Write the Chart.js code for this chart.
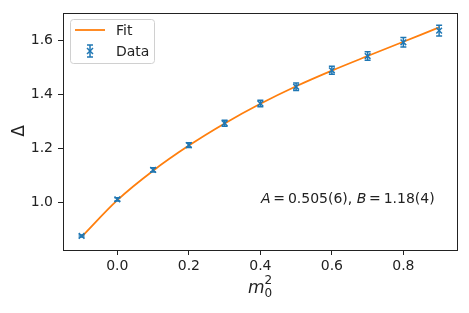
<!DOCTYPE html>
<html>
<head>
<meta charset="utf-8">
<script src="https://cdn.jsdelivr.net/npm/chart.js@4.4.0/dist/chart.umd.min.js"></script>
<style>
    html, body { margin: 0; padding: 0; background: #fff; }
    #wrap { width: 469px; height: 313px; }
</style>
</head>
<body>
<div id="wrap"><canvas id="deltaChart"></canvas></div>
<script>
// Data
const m0sq = [-0.1, 0.0, 0.1, 0.2, 0.3, 0.4, 0.5, 0.6, 0.7, 0.8, 0.9];
const deltaValues = [0.875, 1.011, 1.120, 1.212, 1.293, 1.366, 1.428, 1.489, 1.542, 1.593, 1.636];
const deltaErrors = [0.004, 0.006, 0.008, 0.009, 0.011, 0.012, 0.014, 0.015, 0.016, 0.018, 0.020];

// Fit curve
const fitX = [-0.1, 0.0, 0.1, 0.2, 0.3, 0.4, 0.5, 0.6, 0.7, 0.8, 0.9];
const fitY = [0.872, 1.008, 1.117, 1.210, 1.292, 1.365, 1.430, 1.488, 1.542, 1.595, 1.648];

const xTicks = [0.0, 0.2, 0.4, 0.6, 0.8];
const yTicks = [1.0, 1.2, 1.4, 1.6];

const BLUE = '#1f77b4';
const ORANGE = '#ff7f0e';
const INK = '#222';
const FONT = 'DejaVu Sans';

// Draw a capped vertical error bar
function drawErrorMarker(ctx, x, y, yTop, yBottom) {
    ctx.save();
    ctx.strokeStyle = BLUE;
    ctx.lineWidth = 1.5;
    ctx.beginPath();
    ctx.moveTo(x, yTop);
    ctx.lineTo(x, yBottom);
    ctx.moveTo(x - 3, yTop);
    ctx.lineTo(x + 3, yTop);
    ctx.moveTo(x - 3, yBottom);
    ctx.lineTo(x + 3, yBottom);
    ctx.stroke();
    ctx.restore();
}

const decorPlugin = {
    id: 'decor',
    afterDatasetsDraw(chart) {
        const ctx = chart.ctx;
        const xs = chart.scales.x;
        const ys = chart.scales.y;
        for (let i = 0; i < m0sq.length; i++) {
            const px = xs.getPixelForValue(m0sq[i]);
            drawErrorMarker(ctx, px,
                ys.getPixelForValue(deltaValues[i]),
                ys.getPixelForValue(deltaValues[i] + deltaErrors[i]),
                ys.getPixelForValue(deltaValues[i] - deltaErrors[i]));
        }
    },
    afterDraw(chart) {
        const ctx = chart.ctx;
        const area = chart.chartArea;

        // full box around the axes
        ctx.save();
        ctx.strokeStyle = INK;
        ctx.lineWidth = 1;
        ctx.strokeRect(Math.round(area.left) + 0.5, Math.round(area.top) + 0.5,
            Math.round(area.right - area.left), Math.round(area.bottom - area.top));
        ctx.restore();

        // legend
        ctx.save();
        ctx.beginPath();
        ctx.roundRect(70.5, 19.5, 84, 44, 3);
        ctx.fillStyle = 'rgba(255,255,255,0.8)';
        ctx.fill();
        ctx.strokeStyle = '#d0d0d0';
        ctx.lineWidth = 1;
        ctx.stroke();

        ctx.strokeStyle = ORANGE;
        ctx.lineWidth = 1.8;
        ctx.beginPath();
        ctx.moveTo(75, 30);
        ctx.lineTo(105, 30);
        ctx.stroke();

        ctx.strokeStyle = BLUE;
        ctx.lineWidth = 1.5;
        ctx.beginPath();
        ctx.moveTo(87, 48); ctx.lineTo(93, 54);
        ctx.moveTo(93, 48); ctx.lineTo(87, 54);
        ctx.stroke();
        drawErrorMarker(ctx, 90, 51, 45, 57);

        ctx.fillStyle = INK;
        ctx.font = '14px "' + FONT + '"';
        ctx.textBaseline = 'middle';
        ctx.textAlign = 'left';
        ctx.fillText('Fit', 116, 31);
        ctx.fillText('Data', 116, 52);
        ctx.restore();

        // fit parameters
        ctx.save();
        ctx.fillStyle = INK;
        ctx.textBaseline = 'alphabetic';
        const parts = [
            ['italic', 'A'], ['normal', '\u2009=\u20090.505(6), '],
            ['italic', 'B'], ['normal', '\u2009=\u20091.18(4)']
        ];
        let tx = 261;
        parts.forEach(([style, txt]) => {
            ctx.font = style + ' 14px "' + FONT + '"';
            ctx.fillText(txt, tx, 203);
            tx += ctx.measureText(txt).width;
        });
        ctx.restore();

        // y label
        ctx.save();
        ctx.fillStyle = INK;
        ctx.font = '17px "' + FONT + '"';
        ctx.translate(20, 131);
        ctx.rotate(-Math.PI / 2);
        ctx.textAlign = 'center';
        ctx.textBaseline = 'middle';
        ctx.fillText('Δ', 0, 0);
        ctx.restore();

        // x label m_0^2
        ctx.save();
        ctx.fillStyle = INK;
        ctx.textBaseline = 'alphabetic';
        ctx.font = 'italic 17px "' + FONT + '"';
        ctx.fillText('m', 248, 293);
        const mw = ctx.measureText('m').width;
        ctx.font = '12px "' + FONT + '"';
        ctx.fillText('2', 248 + mw, 284);
        ctx.fillText('0', 248 + mw, 297);
        ctx.restore();
    }
};

const axisStyle = {
    grid: { display: true, drawOnChartArea: false, drawTicks: true, tickLength: 5, color: INK, lineWidth: 1 },
    border: { display: true, color: INK, width: 1 },
    ticks: {
        color: INK,
        padding: 3,
        font: { family: FONT, size: 14 },
        callback: v => v.toFixed(1)
    }
};

new Chart(document.getElementById('deltaChart'), {
    type: 'scatter',
    data: {
        datasets: [
            {
                label: 'Data',
                data: m0sq.map((x, i) => ({ x: x, y: deltaValues[i] })),
                pointStyle: 'crossRot',
                pointRadius: 4,
                borderColor: BLUE,
                backgroundColor: BLUE,
                borderWidth: 1.5,
                showLine: false,
                order: 0
            },
            {
                label: 'Fit',
                data: fitX.map((x, i) => ({ x: x, y: fitY[i] })),
                showLine: true,
                borderColor: ORANGE,
                borderWidth: 1.8,
                pointRadius: 0,
                cubicInterpolationMode: 'monotone',
                order: 1
            }
        ]
    },
    options: {
        responsive: true,
        maintainAspectRatio: false,
        animation: false,
        layout: { padding: { top: 12, right: 12, left: 0, bottom: 0 } },
        plugins: {
            legend: { display: false },
            tooltip: { enabled: false }
        },
        scales: {
            x: {
                ...axisStyle,
                min: -0.152,
                max: 0.95,
                afterBuildTicks: scale => { scale.ticks = xTicks.map(v => ({ value: v })); },
                afterFit: scale => { scale.height = 63; }
            },
            y: {
                ...axisStyle,
                ticks: { ...axisStyle.ticks, padding: 5 },
                min: 0.823,
                max: 1.70,
                afterBuildTicks: scale => { scale.ticks = yTicks.map(v => ({ value: v })); },
                afterFit: scale => { scale.width = 63; }
            }
        }
    },
    plugins: [decorPlugin]
});
</script>
</body>
</html>
